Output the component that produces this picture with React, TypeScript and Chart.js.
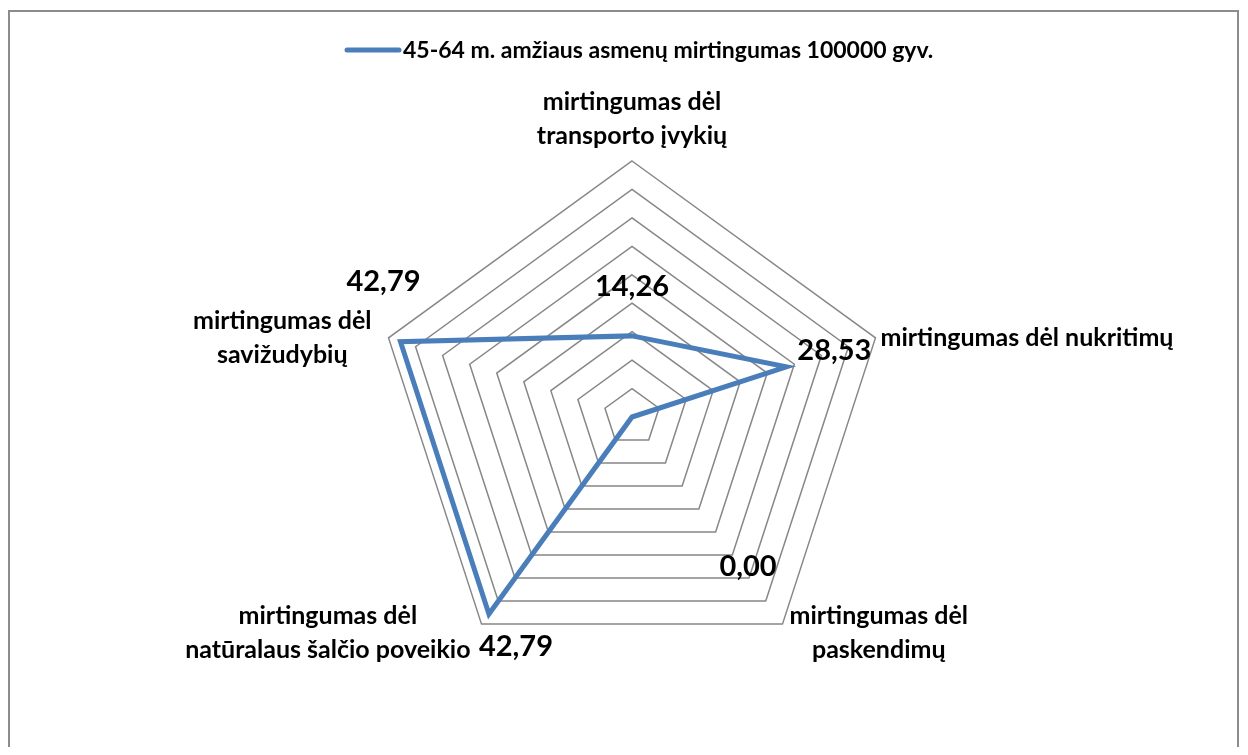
import React, { useEffect, useRef } from "react";
import { Chart, registerables } from "chart.js";

Chart.register(...registerables);

// ---- data ----
const categories: string[][] = [
  ["mirtingumas dėl", "transporto įvykių"],
  ["mirtingumas dėl nukritimų"],
  ["mirtingumas dėl", "paskendimų"],
  ["mirtingumas dėl", "natūralaus šalčio poveikio"],
  ["mirtingumas dėl", "savižudybių"],
];
const seriesLabel = "45-64 m. amžiaus asmenų mirtingumas 100000 gyv.";
const values = [14.26, 28.53, 0, 42.79, 42.79];
const scaleMin = 0;
const scaleMax = 45;
const scaleStep = 5;

// ---- styles ----
const FONT = "Lato, 'Open Sans', sans-serif";
const lineColor = "#4A7EBB";
const gridColor = "#878787";
const valueLabelOffsets: number[][] = [
  [0, -49],
  [48, -16],
  [116, 150],
  [27, 33],
  [-17, -60],
];
const categoryLabelPads = [8, 5, 7, 11, 17];

const fmt = (v: number) => v.toFixed(2).replace(".", ",");

const overlayPlugin = {
  id: "overlay",
  beforeDraw(chart: any) {
    const ctx = chart.ctx;
    ctx.save();
    ctx.strokeStyle = "#8c8c8c";
    ctx.lineWidth = 2;
    ctx.beginPath();
    ctx.moveTo(1, chart.height + 5);
    ctx.lineTo(1, 3);
    ctx.lineTo(1230, 3);
    ctx.lineTo(1230, chart.height + 5);
    ctx.stroke();
    ctx.restore();
  },
  afterDatasetsDraw(chart: any) {
    const ctx = chart.ctx;
    const scale = chart.scales.r;
    const cx = scale.xCenter;
    const cy = scale.yCenter;
    ctx.save();
    ctx.fillStyle = "#000";
    ctx.textBaseline = "middle";
    ctx.textAlign = "center";

    // category labels
    const lineH = 34;
    ctx.font = `bold 25px ${FONT}`;
    categories.forEach((lines, i) => {
      const p = scale.getPointPositionForValue(i, scaleMax);
      const w = Math.max(...lines.map((l) => ctx.measureText(l).width));
      const h = lines.length * lineH;
      const dx = p.x - cx;
      const pad = categoryLabelPads[i];
      let bx: number;
      let top: number;
      if (Math.abs(dx) < 1) {
        bx = p.x;
        top = p.y - pad - h;
      } else {
        bx = dx > 0 ? p.x + pad + w / 2 : p.x - pad - w / 2;
        top = p.y > cy ? p.y + 9 - h / 2 : p.y - h / 2;
      }
      lines.forEach((l, k) => ctx.fillText(l, bx, top + lineH * (k + 0.5)));
    });

    // value labels
    ctx.font = `bold 29px ${FONT}`;
    const meta = chart.getDatasetMeta(0);
    meta.data.forEach((pt: any, i: number) => {
      const [ox, oy] = valueLabelOffsets[i];
      ctx.fillText(fmt(values[i]), pt.x + ox, pt.y + oy);
    });

    // legend
    const ds = chart.data.datasets[0];
    ctx.strokeStyle = ds.borderColor;
    ctx.lineWidth = 5;
    ctx.lineCap = "round";
    ctx.beginPath();
    ctx.moveTo(339, 42);
    ctx.lineTo(391, 42);
    ctx.stroke();
    ctx.textAlign = "left";
    ctx.font = `bold 23px ${FONT}`;
    ctx.fillText(ds.label, 395, 43);
    ctx.restore();
  },
};

export default function App() {
  const ref = useRef<HTMLCanvasElement | null>(null);
  useEffect(() => {
    if (!ref.current) return;
    const chart = new Chart(ref.current, {
      type: "radar",
      data: {
        labels: categories.map((c) => c.join(" ")),
        datasets: [
          {
            label: seriesLabel,
            data: values,
            borderColor: lineColor,
            backgroundColor: "transparent",
            borderWidth: 5,
            pointRadius: 0,
            pointHoverRadius: 0,
            fill: false,
            tension: 0,
          },
        ],
      },
      options: {
        animation: false,
        responsive: true,
        maintainAspectRatio: false,
        layout: { padding: { top: 153, bottom: 74, left: 300, right: 284 } },
        plugins: {
          legend: { display: false },
          tooltip: { enabled: false },
        },
        scales: {
          r: {
            min: scaleMin,
            max: scaleMax,
            ticks: { display: false, stepSize: scaleStep },
            grid: { color: gridColor, lineWidth: 1.5, circular: false },
            angleLines: { display: false },
            pointLabels: { display: false },
          },
        },
      },
      plugins: [overlayPlugin],
    });
    return () => chart.destroy();
  }, []);
  return (
    <div style={{ position: "relative", width: 1232, height: 739 }}>
      <canvas ref={ref} />
    </div>
  );
}
